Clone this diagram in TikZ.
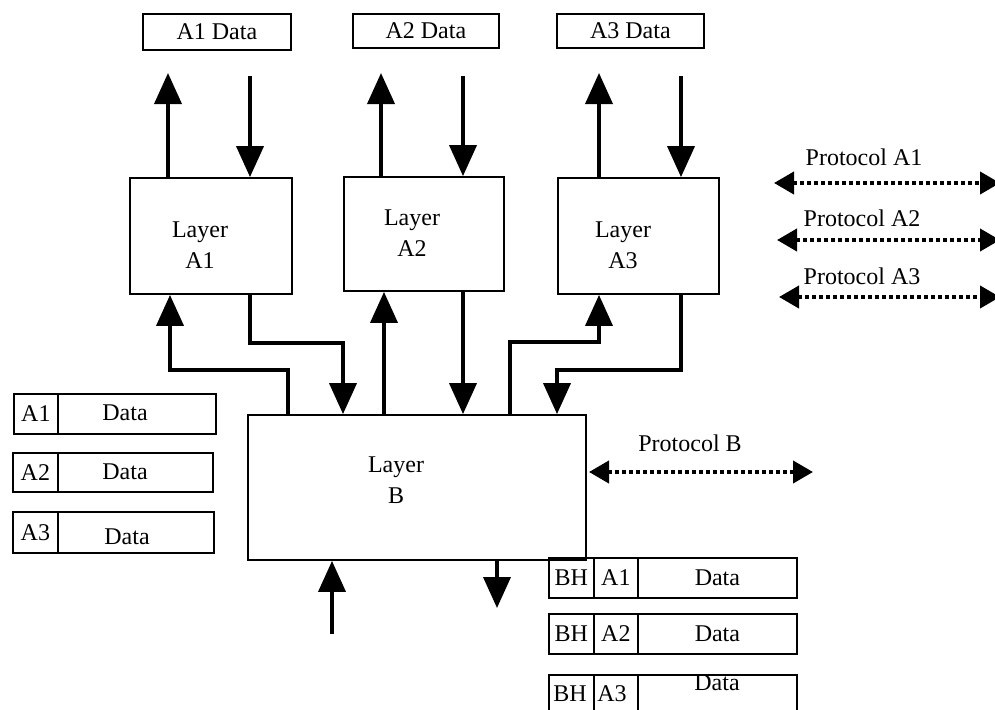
\documentclass[tikz,border=0pt]{standalone}
\usepackage{fontspec}
\setmainfont{Liberation Serif}
\usetikzlibrary{arrows.meta}
\begin{document}
\begin{tikzpicture}[x=1pt,y=-1pt,
  font=\fontsize{24}{31}\selectfont,
  cell/.style={draw,line width=1.8pt,inner sep=0pt,anchor=north west},
  layerbox/.style={draw,line width=1.8pt,inner sep=0pt},
  txt/.style={inner sep=0pt,align=center},
  arr/.style={line width=3.8pt,line join=miter,-{Triangle[length=31pt,width=27pt]}},
  proto/.style={line width=4pt,dash pattern=on 4pt off 3pt,
    {Triangle[length=20pt,width=22pt]}-{Triangle[length=20pt,width=22pt]}}]
\useasboundingbox (0,0) rectangle (995,709);
\clip (0,0) rectangle (995,709);

% data units above the A layers
\node[cell,minimum width=148pt,minimum height=36pt] (d1) at (142,13) {A1 Data};
\node[cell,minimum width=146pt,minimum height=34pt] (d2) at (352,13) {A2 Data};
\node[cell,minimum width=147pt,minimum height=34pt] (d3) at (556,13) {A3 Data};

% layers
\node[layerbox,minimum width=162pt,minimum height=116pt] (la1) at (211,236) {};
\node[layerbox,minimum width=160pt,minimum height=114pt] (la2) at (424,234) {};
\node[layerbox,minimum width=161pt,minimum height=116pt] (la3) at (638.5,236) {};
\node[layerbox,minimum width=338pt,minimum height=145pt] (lb) at (417,487.5) {};
\node[txt] (ta1) at (200,245) {Layer\\A1};
\node[txt] (ta2) at (412,233) {Layer\\A2};
\node[txt] (ta3) at (623,245) {Layer\\A3};
\node[txt] (tb) at (396,480) {Layer\\B};

% arrows between the A layers and their data
\coordinate (u1) at (168,73);  \coordinate (v1) at (250,76);
\coordinate (u2) at (381,73);  \coordinate (v2) at (463,76);
\coordinate (u3) at (599,73);  \coordinate (v3) at (681,76);
\draw[arr] (la1.north -| u1) -- (u1);
\draw[arr] (v1) -- (la1.north -| v1);
\draw[arr] (la2.north -| u2) -- (u2);
\draw[arr] (v2) -- (la2.north -| v2);
\draw[arr] (la3.north -| u3) -- (u3);
\draw[arr] (v3) -- (la3.north -| v3);

% arrows between layer B and the A layers
\coordinate (p1) at (288,370); \coordinate (p2) at (170,370);
\draw[arr] (lb.north -| p1) -- (p1) -- (p2) -- (la1.south -| p2);
\coordinate (q1) at (250,343); \coordinate (q2) at (343,343);
\draw[arr] (la1.south -| q1) -- (q1) -- (q2) -- (lb.north -| q2);
\coordinate (r1) at (384,0); \coordinate (r2) at (463,0);
\draw[arr] (lb.north -| r1) -- (la2.south -| r1);
\draw[arr] (la2.south -| r2) -- (lb.north -| r2);
\coordinate (s1) at (510,342); \coordinate (s2) at (599,342);
\draw[arr] (lb.north -| s1) -- (s1) -- (s2) -- (la3.south -| s2);
\coordinate (t1) at (681,370); \coordinate (t2) at (557,370);
\draw[arr] (la3.south -| t1) -- (t1) -- (t2) -- (lb.north -| t2);

% arrows below layer B
\coordinate (bin) at (332,634);
\coordinate (bout) at (497,608);
\draw[arr] (bin) -- (lb.south -| bin);
\draw[arr] (lb.south -| bout) -- (bout);

% A-units on the left
\node[cell,minimum width=44pt,minimum height=40pt] (l1a) at (13,393) {A1};
\node[cell,minimum width=158pt,minimum height=40pt] (l1b) at (57,393) {};
\node[cell,minimum width=45pt,minimum height=39pt] (l2a) at (12,452) {A2};
\node[cell,minimum width=155pt,minimum height=39pt] (l2b) at (57,452) {};
\node[cell,minimum width=45pt,minimum height=41pt] (l3a) at (12,511) {A3};
\node[cell,minimum width=156pt,minimum height=41pt] (l3b) at (57,511) {};
\node[txt] (l1t) at (125,413) {Data};
\node[txt] (l2t) at (125,472) {Data};
\node[txt] (l3t) at (127,537) {Data};

% B-units on the right
\node[cell,minimum width=45pt,minimum height=40pt] (r1a) at (548,557) {BH};
\node[cell,minimum width=44pt,minimum height=40pt] (r1b) at (593,557) {A1};
\node[cell,minimum width=159pt,minimum height=40pt] (r1c) at (637,557) {Data};
\node[cell,minimum width=45pt,minimum height=40pt] (r2a) at (548,613) {BH};
\node[cell,minimum width=44pt,minimum height=40pt] (r2b) at (593,613) {A2};
\node[cell,minimum width=159pt,minimum height=40pt] (r2c) at (637,613) {Data};
\node[cell,minimum width=45pt,minimum height=44pt] (r3a) at (548,674) {};
\node[cell,minimum width=44pt,minimum height=44pt] (r3b) at (593,674) {};
\node[cell,minimum width=159pt,minimum height=44pt] (r3c) at (637,674) {};
\node[txt] (r3at) at (570,694) {BH};
\node[txt] (r3bt) at (612,694) {A3};
\node[txt] (r3ct) at (717,683) {Data};

% peer protocols
\coordinate (pa1l) at (774,183); \coordinate (pa1r) at (1000,183);
\coordinate (pa2l) at (777,240); \coordinate (pa2r) at (1000,240);
\coordinate (pa3l) at (779,297); \coordinate (pa3r) at (1000,297);
\coordinate (pbl) at (589,472);  \coordinate (pbr) at (813,472);
\draw[proto] (pa1l) -- (pa1r);
\draw[proto] (pa2l) -- (pa2r);
\draw[proto] (pa3l) -- (pa3r);
\draw[proto] (pbl) -- (pbr);
\node[txt] (n1) at (864,157) {Protocol A1};
\node[txt] (n2) at (862,218) {Protocol A2};
\node[txt] (n3) at (862,276) {Protocol A3};
\node[txt] (nb) at (690,443) {Protocol B};
\end{tikzpicture}
\end{document}
